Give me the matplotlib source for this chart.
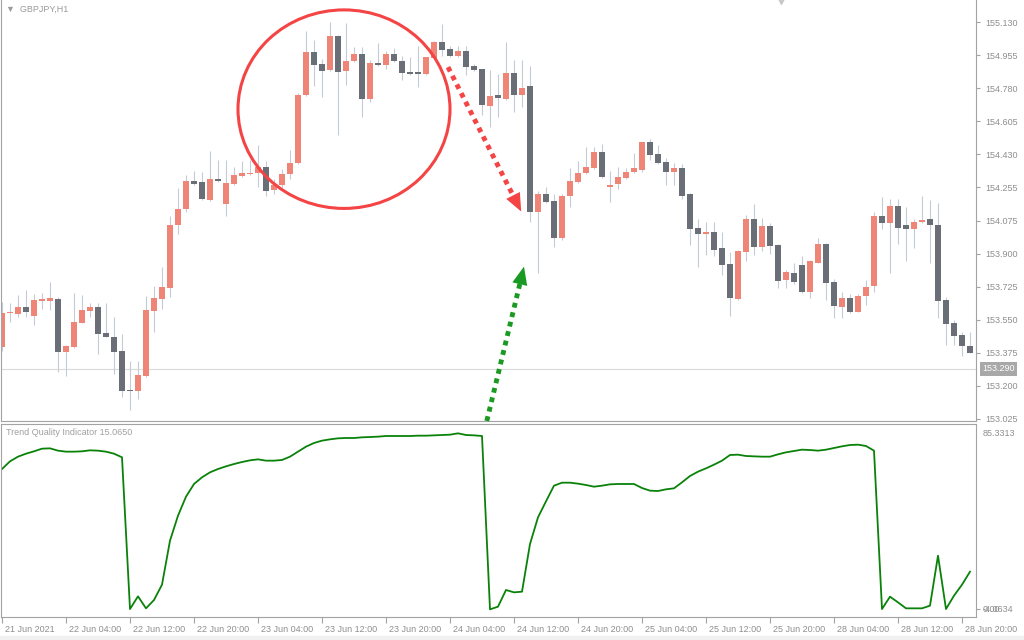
import matplotlib
matplotlib.use("Agg")
import matplotlib.pyplot as plt
import matplotlib.transforms as mtransforms
from matplotlib.patches import Ellipse, Rectangle
import numpy as np

plt.rcParams['font.family'] = ['Liberation Sans', 'DejaVu Sans']

# GBPJPY H1 candles (bar 0 = 21 Jun 2021 20:00)
opens = [153.408, 153.585, 153.583, 153.620, 153.572, 153.653, 153.652, 153.663, 153.381, 153.408,
         153.535, 153.599, 153.620, 153.482, 153.461, 153.387, 153.179, 153.174, 153.254, 153.599,
         153.663, 153.721, 154.051, 154.136, 154.285, 154.280, 154.184, 154.295, 154.163, 154.269,
         154.311, 154.325, 154.327, 154.359, 154.237, 154.264, 154.322, 154.381, 154.742, 154.971,
         154.907, 154.875, 155.056, 154.870, 154.923, 154.960, 154.721, 154.912, 154.901, 154.960,
         154.923, 154.864, 154.864, 154.854, 154.939, 155.024, 154.987, 154.949, 154.976, 154.896,
         154.880, 154.684, 154.742, 154.721, 154.859, 154.742, 154.790, 154.125, 154.216, 154.179,
         153.987, 154.205, 154.280, 154.327, 154.354, 154.439, 154.253, 154.269, 154.301, 154.333,
         154.343, 154.492, 154.428, 154.386, 154.333, 154.354, 154.216, 154.040, 154.008, 154.019,
         153.934, 153.849, 153.663, 153.913, 154.088, 153.939, 154.046, 153.950, 153.764, 153.801,
         153.843, 153.700, 153.854, 153.955, 153.753, 153.620, 153.668, 153.594, 153.679, 153.732,
         154.099, 154.062, 154.152, 154.051, 154.030, 154.067, 154.083, 154.056, 153.657, 153.535,
         153.471, 153.413]
highs = [153.646, 153.641, 153.684, 153.711, 153.689, 153.695, 153.753, 153.673, 153.418, 153.695,
         153.684, 153.641, 153.641, 153.641, 153.567, 153.477, 153.333, 153.333, 153.679, 153.732,
         153.833, 154.099, 154.248, 154.317, 154.338, 154.333, 154.444, 154.396, 154.396, 154.359,
         154.391, 154.396, 154.476, 154.391, 154.295, 154.349, 154.450, 154.753, 155.082, 155.034,
         154.933, 155.130, 155.060, 155.125, 154.997, 154.997, 154.928, 155.018, 154.976, 154.992,
         154.949, 154.944, 155.002, 154.946, 155.029, 155.120, 155.002, 155.002, 155.002, 154.907,
         154.883, 154.875, 154.854, 155.024, 154.928, 154.928, 154.896, 154.232, 154.253, 154.216,
         154.216, 154.354, 154.391, 154.465, 154.465, 154.481, 154.338, 154.359, 154.354, 154.434,
         154.495, 154.508, 154.476, 154.407, 154.381, 154.375, 154.221, 154.088, 154.072, 154.072,
         154.014, 153.913, 153.923, 154.109, 154.163, 154.093, 154.062, 153.952, 153.817, 153.854,
         153.891, 153.868, 153.982, 153.958, 153.769, 153.700, 153.689, 153.689, 153.764, 154.120,
         154.200, 154.189, 154.189, 154.147, 154.083, 154.205, 154.184, 154.168, 153.673, 153.551,
         153.487, 153.487]
lows = [153.387, 153.540, 153.567, 153.567, 153.524, 153.609, 153.604, 153.275, 153.253, 153.402,
        153.535, 153.567, 153.371, 153.458, 153.264, 153.142, 153.073, 153.131, 153.250, 153.487,
        153.609, 153.673, 154.008, 154.125, 154.265, 154.184, 154.180, 154.282, 154.099, 154.265,
        154.306, 154.317, 154.253, 154.205, 154.216, 154.248, 154.295, 154.375, 154.740, 154.790,
        154.731, 154.870, 154.529, 154.795, 154.918, 154.625, 154.705, 154.898, 154.880, 154.918,
        154.822, 154.850, 154.785, 154.850, 154.936, 154.949, 154.945, 154.945, 154.848, 154.872,
        154.636, 154.572, 154.625, 154.718, 154.652, 154.678, 154.067, 153.801, 154.170, 153.939,
        153.976, 154.147, 154.277, 154.324, 154.350, 154.303, 154.173, 154.242, 154.298, 154.330,
        154.333, 154.396, 154.378, 154.264, 154.264, 154.194, 153.950, 153.833, 153.897, 153.891,
        153.790, 153.572, 153.657, 153.865, 153.897, 153.918, 153.902, 153.721, 153.721, 153.743,
        153.695, 153.668, 153.850, 153.657, 153.562, 153.562, 153.588, 153.590, 153.631, 153.700,
        154.035, 153.801, 153.955, 153.865, 153.929, 154.064, 153.854, 153.562, 153.418, 153.418,
        153.360, 153.374]
closes = [153.588, 153.590, 153.620, 153.594, 153.657, 153.658, 153.668, 153.381, 153.413, 153.540,
          153.604, 153.620, 153.477, 153.461, 153.381, 153.174, 153.174, 153.259, 153.604, 153.668,
          153.727, 154.056, 154.141, 154.285, 154.269, 154.189, 154.295, 154.285, 154.274, 154.317,
          154.327, 154.330, 154.359, 154.232, 154.264, 154.322, 154.381, 154.742, 154.971, 154.901,
          154.870, 155.056, 154.864, 154.923, 154.960, 154.721, 154.912, 154.901, 154.960, 154.923,
          154.859, 154.854, 154.854, 154.944, 155.024, 154.981, 154.949, 154.976, 154.891, 154.875,
          154.689, 154.737, 154.726, 154.859, 154.742, 154.779, 154.125, 154.216, 154.173, 153.987,
          154.210, 154.285, 154.327, 154.359, 154.439, 154.306, 154.264, 154.306, 154.333, 154.354,
          154.492, 154.423, 154.381, 154.333, 154.354, 154.210, 154.035, 154.008, 154.019, 153.923,
          153.843, 153.668, 153.918, 154.083, 153.939, 154.046, 153.944, 153.758, 153.806, 153.753,
          153.700, 153.865, 153.955, 153.748, 153.626, 153.668, 153.594, 153.679, 153.727, 154.099,
          154.062, 154.152, 154.040, 154.030, 154.067, 154.078, 154.051, 153.652, 153.530, 153.466,
          153.413, 153.376]

# Trend Quality Indicator values per bar
tqi = [67.21, 71.11, 73.48, 75.00, 76.19, 77.54, 77.71, 76.53, 76.02, 76.02,
       76.19, 76.70, 76.53, 76.02, 75.00, 73.14, -3.90, 2.54, -3.55, 0.68,
       8.47, 30.82, 43.51, 53.16, 59.60, 62.98, 65.52, 67.21, 68.57, 69.75,
       70.77, 71.62, 72.12, 71.45, 71.45, 71.79, 73.48, 76.02, 78.56, 80.42,
       81.61, 82.28, 82.79, 82.96, 82.96, 83.30, 83.47, 83.64, 83.98, 83.98,
       83.98, 83.98, 84.14, 84.14, 84.31, 84.48, 84.65, 85.33, 84.48, 84.31,
       83.98, -4.06, -2.71, 5.76, 4.57, 4.91, 29.12, 42.67, 50.79, 58.75,
       60.27, 60.27, 59.77, 59.09, 58.24, 58.75, 59.43, 59.60, 59.60, 59.60,
       57.56, 56.21, 56.04, 56.89, 57.40, 60.44, 63.66, 65.86, 67.55, 69.42,
       71.45, 74.33, 74.49, 73.82, 73.65, 73.48, 73.48, 74.66, 75.68, 76.36,
       77.03, 76.86, 76.53, 77.03, 77.88, 78.73, 79.40, 79.57, 78.90, 76.53,
       -3.90, 2.37, -0.51, -3.55, -3.55, -3.55, -2.20, 23.20, -3.90, 2.88,
       8.47, 15.07]

price_ticks = [155.130, 154.955, 154.780, 154.605, 154.430, 154.255, 154.075,
               153.900, 153.725, 153.550, 153.375, 153.200, 153.025]
time_labels = ["21 Jun 2021", "22 Jun 04:00", "22 Jun 12:00", "22 Jun 20:00", "23 Jun 04:00",
               "23 Jun 12:00", "23 Jun 20:00", "24 Jun 04:00", "24 Jun 12:00", "24 Jun 20:00",
               "25 Jun 04:00", "25 Jun 12:00", "25 Jun 20:00", "28 Jun 04:00", "28 Jun 12:00",
               "28 Jun 20:00"]
last_price = 153.290
tqi_max, tqi_min = 85.3313, -4.0634

BULL = '#ee8576'
BEAR = '#6a6e76'
WICK = '#c6cad8'
FRAME = '#a3a3a3'
TXT = '#8e8e8e'
RED = '#f44444'
GREEN = '#1a9a22'

W, H = 1024, 640
fig = plt.figure(figsize=(W / 100, H / 100), dpi=100)
fig.patch.set_facecolor('white')


def px_axes(l, t, r, b):
    return fig.add_axes([l / W, 1 - b / H, (r - l) / W, (b - t) / H])


ax = px_axes(1, 0, 976, 421)
axi = px_axes(1, 424, 976, 617)

o = np.array(opens); c = np.array(closes)
x = np.arange(len(o))
cols = np.where(c >= o, BULL, BEAR)
ax.vlines(x, lows, highs, color=WICK, lw=0.8, zorder=1)
lo = np.minimum(o, c)
hgt = np.maximum(np.abs(c - o), 0.007)
ax.bar(x, hgt, bottom=lo, width=0.8, color=cols, linewidth=0, zorder=2)

ax.axhline(last_price, color='#dadada', lw=0.8, zorder=0)

ax.set_xlim(-0.125, 121.75)
ax.set_ylim(153.014, 155.247)
ax.set_xticks([])
ax.yaxis.tick_right()
ax.set_yticks(price_ticks)
ax.set_yticklabels(['%.3f' % v for v in price_ticks])
ax.tick_params(axis='y', length=3, pad=4, labelsize=6.5, labelcolor=TXT, color=FRAME, width=0.8)
for s in ax.spines.values():
    s.set_color(FRAME)
    s.set_linewidth(0.8)
ax.spines['top'].set_visible(False)

btrans = mtransforms.blended_transform_factory(ax.transAxes, ax.transData)
ax.text(1.006, last_price, '%.3f' % last_price, transform=btrans, ha='left', va='center',
        fontsize=6.5, color='white', clip_on=False,
        bbox=dict(boxstyle='square,pad=0.25', fc='#a8a8a8', ec='none'))

ax.text(0.005, 0.979, '\u25bc  GBPJPY,H1', transform=ax.transAxes, ha='left', va='center',
        fontsize=6.5, color='#9a9a9a')
ax.plot([0.8], [0.997], marker='v', ms=4, color='#c8c8c8', transform=ax.transAxes, clip_on=False)

# annotations: circle + dotted arrows
ax.add_patch(Ellipse((42.75, 154.668), 26.5, 1.053, fill=False, ec=RED, lw=2.2, zorder=5))


def dotted_arrow(x0, y0, x1, y1, color):
    f = 0.9
    ax.plot([x0, x0 + f * (x1 - x0)], [y0, y0 + f * (y1 - y0)], color=color, lw=3.5,
            linestyle=(0, (1, 1)), dash_capstyle='butt', zorder=6, clip_on=False)
    ax.annotate('', xy=(x1, y1), xytext=(x0, y0),
                arrowprops=dict(arrowstyle='-|>,head_length=1.3,head_width=0.55',
                                color=color, lw=0, shrinkA=0, shrinkB=0),
                zorder=7, annotation_clip=False)


dotted_arrow(55.75, 154.891, 64.9, 154.125, RED)
dotted_arrow(60.6, 153.014, 65.25, 153.833, GREEN)

# indicator panel
axi.plot(x, tqi, color='#0a820a', lw=1.3)
axi.set_xlim(-0.125, 121.75)
axi.set_ylim(-7.95, 90.07)
axi.set_yticks([tqi_min])
axi.set_yticklabels([''])
axi.yaxis.tick_right()
axi.tick_params(axis='y', length=3, color=FRAME, width=0.8)
axi.set_xticks(np.arange(0, 121, 8))
axi.set_xticklabels(time_labels)
axi.tick_params(axis='x', length=4, pad=2, labelsize=6.5, labelcolor=TXT, color=FRAME, width=0.8)
offset = mtransforms.ScaledTranslation(2.5 / 72, 0, fig.dpi_scale_trans)
for lbl in axi.get_xticklabels():
    lbl.set_horizontalalignment('left')
    lbl.set_transform(lbl.get_transform() + offset)
for s in axi.spines.values():
    s.set_color(FRAME)
    s.set_linewidth(0.8)

itrans = mtransforms.blended_transform_factory(axi.transAxes, axi.transData)
axi.text(1.007, tqi_max, '85.3313', transform=itrans, ha='left', va='center', fontsize=6.5, color=TXT)
axi.text(1.007, tqi_min, '0.00', transform=itrans, ha='left', va='center', fontsize=6.5, color=TXT)
axi.text(1.007, tqi_min, '-4.0634', transform=itrans, ha='left', va='center', fontsize=6.5, color=TXT)
axi.text(0.005, 0.955, 'Trend Quality Indicator 15.0650', transform=axi.transAxes, ha='left',
         va='center', fontsize=6.5, color='#a0a0a0')

fig.patches.append(Rectangle((0, 0), 1, 4 / H, transform=fig.transFigure, color='#f0f0f0', zorder=0))

fig.savefig('out.png', dpi=100)
